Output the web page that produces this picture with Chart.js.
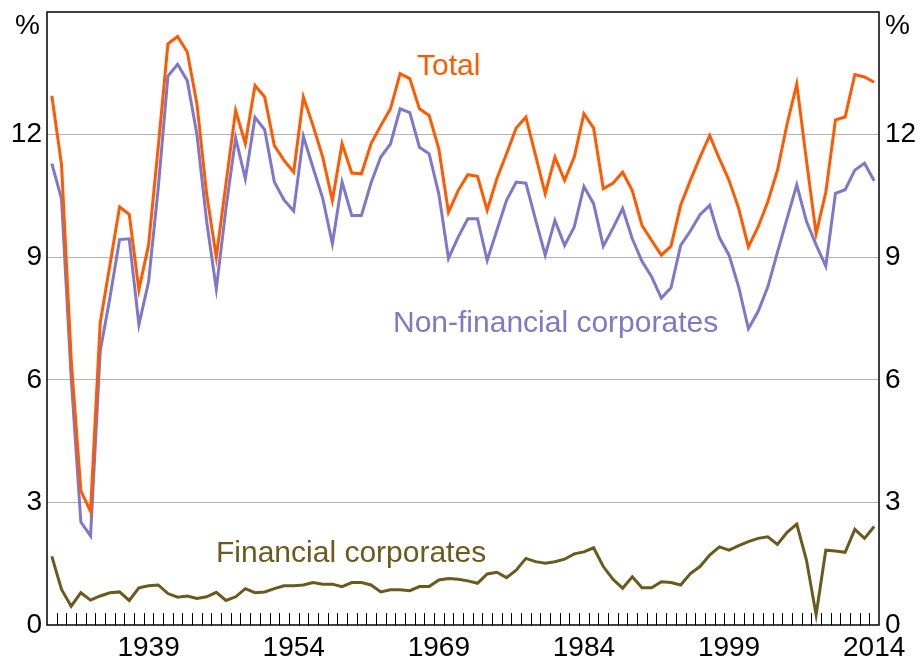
<!DOCTYPE html>
<html>
<head>
<meta charset="utf-8">
<script src="https://cdn.jsdelivr.net/npm/chart.js@4"></script>
<style>
  body { margin: 0; background: #fff; }
  canvas { display: block; }
</style>
</head>
<body>
<canvas id="chartId" width="919" height="659"></canvas>
<script>
// Profit share series, 1929 to 2014, per cent

const years = [];
for (let y = 1929; y <= 2014; y++) years.push(String(y));

const labelYears = ['1939', '1954', '1969', '1984', '1999', '2014'];
const yTicks = [0, 3, 6, 9, 12];

const total = [
  12.95, 11.27, 6.5, 3.28, 2.78, 7.4, 8.8, 10.23, 10.05, 8.2,
  9.3, 11.7, 14.22, 14.4, 14.02, 12.75, 10.55, 9.0, 10.8, 12.59,
  11.78, 13.2, 12.92, 11.73, 11.37, 11.08, 12.92, 12.22, 11.45, 10.39,
  11.78, 11.06, 11.04, 11.78, 12.22, 12.63, 13.49, 13.37, 12.63, 12.47,
  11.65, 10.1, 10.63, 11.02, 10.98, 10.15, 10.92, 11.53, 12.16, 12.43,
  11.49, 10.55, 11.45, 10.88, 11.45, 12.51, 12.16, 10.68, 10.81, 11.08,
  10.63, 9.78, 9.41, 9.05, 9.27, 10.27, 10.88, 11.45, 11.98, 11.41,
  10.88, 10.19, 9.25, 9.74, 10.35, 11.12, 12.26, 13.24, 11.37, 9.57,
  10.59, 12.36, 12.43, 13.47, 13.41, 13.28
];

const nonFinancial = [
  11.29, 10.43, 6.05, 2.52, 2.18, 6.7, 8.0, 9.43, 9.45, 7.35,
  8.4, 10.7, 13.43, 13.72, 13.32, 12.0, 9.88, 8.22, 10.2, 11.92,
  10.92, 12.42, 12.12, 10.84, 10.4, 10.13, 11.96, 11.19, 10.44, 9.33,
  10.84, 10.02, 10.02, 10.82, 11.45, 11.77, 12.63, 12.54, 11.69, 11.53,
  10.55, 8.97, 9.49, 9.94, 9.94, 8.92, 9.66, 10.39, 10.84, 10.81,
  9.92, 9.05, 9.9, 9.29, 9.74, 10.73, 10.31, 9.27, 9.71, 10.19,
  9.45, 8.9, 8.52, 8.0, 8.25, 9.29, 9.64, 10.04, 10.27, 9.48,
  9.05, 8.27, 7.25, 7.67, 8.27, 9.12, 9.95, 10.77, 9.88, 9.3,
  8.78, 10.56, 10.65, 11.13, 11.3, 10.87
];

const financial = [
  1.68, 0.87, 0.46, 0.79, 0.61, 0.71, 0.79, 0.81, 0.6, 0.91,
  0.96, 0.98, 0.77, 0.68, 0.71, 0.65, 0.69, 0.8, 0.6, 0.69,
  0.89, 0.79, 0.81, 0.89, 0.96, 0.96, 0.98, 1.04, 1.0, 1.0,
  0.94, 1.04, 1.04, 0.98, 0.81, 0.86, 0.86, 0.84, 0.94, 0.94,
  1.1, 1.14, 1.12, 1.08, 1.02, 1.25, 1.29, 1.16, 1.34, 1.63,
  1.55, 1.51, 1.55, 1.61, 1.74, 1.79, 1.89, 1.43, 1.12, 0.9,
  1.18, 0.91, 0.91, 1.06, 1.04, 0.98, 1.26, 1.43, 1.71, 1.91,
  1.83, 1.94, 2.04, 2.12, 2.16, 1.97, 2.27, 2.47, 1.59, 0.25,
  1.83, 1.81, 1.78, 2.34, 2.12, 2.41
];

const ORANGE = '#ff5a00';
const PURPLE = '#7f77c9';
const OLIVE = '#6b5a1c';
const FONT = 'Arial, "Liberation Sans", sans-serif';

// frame, inside tick marks and series names
const decorations = {
  id: 'decorations',
  afterDraw(chart) {
    const ctx = chart.ctx;
    const area = chart.chartArea;
    const x = chart.scales.x;
    ctx.save();

    ctx.strokeStyle = '#000';
    ctx.lineWidth = 1;
    for (let k = 1; k < years.length; k++) {
      const px = Math.round((x.getPixelForValue(k - 1) + x.getPixelForValue(k)) / 2) + 0.5;
      ctx.beginPath();
      ctx.moveTo(px, area.bottom - 12);
      ctx.lineTo(px, area.bottom);
      ctx.stroke();
    }

    ctx.lineWidth = 1.5;
    ctx.strokeRect(area.left, area.top, area.right - area.left, area.bottom - area.top);

    ctx.fillStyle = '#000';
    ctx.font = '28px ' + FONT;
    ctx.textBaseline = 'middle';
    ctx.textAlign = 'right';
    ctx.fillText('%', area.left - 7, area.top + 14);
    ctx.textAlign = 'left';
    ctx.fillText('%', area.right + 6, area.top + 14);

    ctx.font = '30px ' + FONT;
    ctx.textBaseline = 'alphabetic';
    ctx.fillStyle = ORANGE;
    ctx.fillText('Total', 417, 75);
    ctx.fillStyle = PURPLE;
    ctx.fillText('Non-financial corporates', 393, 332);
    ctx.fillStyle = OLIVE;
    ctx.fillText('Financial corporates', 216, 562);
    ctx.restore();
  }
};

const tickFont = { family: FONT, size: 28 };

function fixY(width) {
  return s => {
    s.width = width;
    s.paddingTop = 0;
    s.paddingBottom = 0;
  };
}

const chrt = document.getElementById('chartId').getContext('2d');
const chart = new Chart(chrt, {
  type: 'line',
  data: {
    labels: years,
    datasets: [
      { label: 'Total', data: total, borderColor: ORANGE },
      { label: 'Non-financial corporates', data: nonFinancial, borderColor: PURPLE },
      { label: 'Financial corporates', data: financial, borderColor: OLIVE }
    ]
  },
  options: {
    responsive: false,
    animation: false,
    layout: { padding: { top: 12, left: 0, right: 0, bottom: 0 } },
    elements: {
      line: { borderWidth: 3, tension: 0, borderJoinStyle: 'miter' },
      point: { radius: 0 }
    },
    plugins: {
      legend: { display: false },
      tooltip: { enabled: false }
    },
    scales: {
      x: {
        type: 'category',
        offset: true,
        grid: { display: false, drawTicks: false },
        border: { display: false },
        ticks: {
          autoSkip: false,
          maxRotation: 0,
          padding: 6,
          color: '#000',
          font: tickFont,
          callback: function (value) {
            const lab = years[value];
            return labelYears.includes(lab) ? lab : '';
          }
        },
        afterFit: s => {
          s.height = 34;
          s.paddingLeft = 0;
          s.paddingRight = 0;
        }
      },
      y: {
        position: 'left',
        min: 0,
        max: 15,
        afterBuildTicks: s => { s.ticks = yTicks.concat([15]).map(v => ({ value: v })); },
        grid: {
          drawTicks: false,
          lineWidth: 1,
          color: c => (c.tick.value === 0 || c.tick.value === 15) ? 'rgba(0,0,0,0)' : '#b4b4b4'
        },
        border: { display: false },
        ticks: {
          padding: 5,
          color: '#000',
          font: tickFont,
          callback: v => (v === 15 ? '' : v)
        },
        afterFit: fixY(47)
      },
      y2: {
        position: 'right',
        min: 0,
        max: 15,
        afterBuildTicks: s => { s.ticks = yTicks.concat([15]).map(v => ({ value: v })); },
        grid: { display: false, drawTicks: false },
        border: { display: false },
        ticks: {
          padding: 6,
          color: '#000',
          font: tickFont,
          callback: v => (v === 15 ? '' : v)
        },
        afterFit: fixY(40)
      }
    }
  },
  plugins: [decorations]
});
</script>
</body>
</html>
